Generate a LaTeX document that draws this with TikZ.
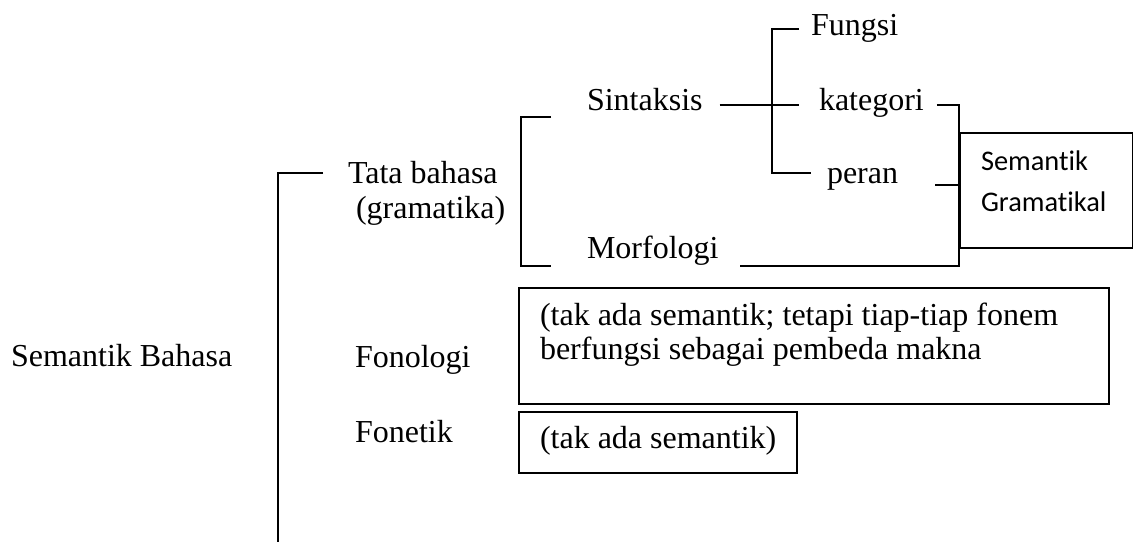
\documentclass[tikz,border=0pt]{standalone}
\usepackage{fontspec}
\setmainfont{Liberation Serif}
\newfontfamily\calibrifont[Ligatures=NoCommon]{Carlito}
\begin{document}
\begin{tikzpicture}[x=0.5pt, y=-0.5pt, line width=1pt,
    lbl/.style={anchor=base west, inner sep=0pt, font=\fontsize{16}{19}\selectfont},
    sanslbl/.style={anchor=base west, inner sep=0pt, font=\calibrifont\fontsize{14.2}{17}\selectfont},
    txtbox/.style={draw, anchor=north west, inner sep=0pt}]
              \useasboundingbox (0, 0) rectangle (1133, 542);

              \node [lbl] (bahasa) at (10, 366) {Semantik Bahasa};
              \node [lbl] (tata) at (347, 183) {Tata bahasa};
              \node [lbl] (grama) at (355, 218) {(gramatika)};
              \node [lbl] (sin) at (586, 110) {Sintaksis};
              \node [lbl] (morf) at (586, 258) {Morfologi};
              \node [lbl] (fungsi) at (810, 35) {Fungsi};
              \node [lbl] (kat) at (818, 110) {kategori};
              \node [lbl] (peran) at (826, 183) {peran};
              \node [lbl] (fonol) at (354, 367) {Fonologi};
              \node [lbl] (fonet) at (354, 442) {Fonetik};

              \node [txtbox, minimum width=86.5pt, minimum height=57.5pt] (grambox) at (959, 132) {};
              \node [sanslbl] (gram1) at (980, 170) {Semantik};
              \node [sanslbl] (gram2) at (980, 211) {Gramatikal};

              \node [txtbox, minimum width=295pt, minimum height=58pt] (fonolbox) at (518, 287) {};
              \node [lbl] (fonol1) at (539, 325) {(tak ada semantik; tetapi tiap-tiap fonem};
              \node [lbl] (fonol2) at (539, 359) {berfungsi sebagai pembeda makna};

              \node [txtbox, minimum width=139pt, minimum height=30.5pt] (fonetbox) at (518, 411) {};
              \node [lbl] (fonet1) at (539, 448) {(tak ada semantik)};

              \coordinate (top) at (278, 173);
              \coordinate (bot) at (278, 542);
              \draw ([xshift=-12pt]tata.west |- top) -- (top) -- (bot);

              \coordinate (bt) at (521, 117);
              \coordinate (bb) at (521, 266);
              \draw ([xshift=-17.5pt]sin.west |- bt) -- (bt) -- (bb) -- ([xshift=-17.5pt]morf.west |- bb);

              \coordinate (j) at (772, 105);
              \coordinate (ft) at (772, 29);
              \coordinate (pb) at (772, 173);
              \draw ([xshift=8pt]sin.east |- j) -- ([xshift=-9.5pt]kat.west |- j);
              \draw ([xshift=-5.5pt]fungsi.west |- ft) -- (ft) -- (pb) -- ([xshift=-7.5pt]peran.west |- pb);

              \coordinate (rk) at (959, 105);
              \coordinate (rp) at (959, 185);
              \coordinate (rb) at (959, 266);
              \draw ([xshift=6pt]kat.east |- rk) -- (rk) -- (rb) -- ([xshift=10pt]morf.east |- rb);
              \draw ([xshift=18pt]peran.east |- rp) -- (rp);
            \end{tikzpicture}
\end{document}
